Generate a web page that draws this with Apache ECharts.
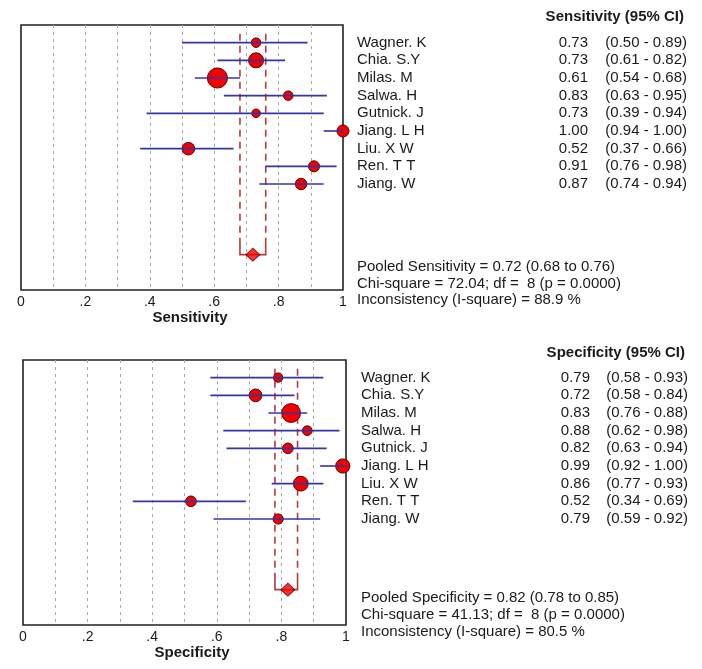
<!DOCTYPE html>
<html>
<head>
<meta charset="utf-8">
<script src="https://cdn.jsdelivr.net/npm/echarts@6/dist/echarts.min.js"></script>
<style>
html,body{margin:0;padding:0;background:#fff;}
#chart{width:702px;height:669px;}
</style>
</head>
<body>
<div id="chart"></div>
<script>
// ---- data ----
const studies = ['Wagner. K','Chia. S.Y','Milas. M','Salwa. H','Gutnick. J','Jiang. L H','Liu. X W','Ren. T T','Jiang. W'];
const sensEst = [0.73,0.73,0.61,0.83,0.73,1.00,0.52,0.91,0.87];
const sensLo  = [0.50,0.61,0.54,0.63,0.39,0.94,0.37,0.76,0.74];
const sensHi  = [0.89,0.82,0.68,0.95,0.94,1.00,0.66,0.98,0.94];
const sensWeight = [6.3,15.7,28.0,6.3,5.0,10.1,10.9,8.5,9.2];
const specEst = [0.79,0.72,0.83,0.88,0.82,0.99,0.86,0.52,0.79];
const specLo  = [0.58,0.58,0.76,0.62,0.63,0.92,0.77,0.34,0.59];
const specHi  = [0.93,0.84,0.88,0.98,0.94,1.00,0.93,0.69,0.92];
const specWeight = [5.8,11.2,24.5,6.5,7.9,14.0,15.1,7.9,7.2];
const pooledSens = [0.72,0.68,0.76];
const pooledSpec = [0.82,0.78,0.85];
const sensStats = ['Chi-square = 72.04; df =  8 (p = 0.0000)','Inconsistency (I-square) = 88.9 %'];
const specStats = ['Chi-square = 41.13; df =  8 (p = 0.0000)','Inconsistency (I-square) = 80.5 %'];
const xTickLabels = ['0','.2','.4','.6','.8','1'];
const panelNames = ['Sensitivity','Specificity'];
const pooledRow = 12;

// ---- chart ----
const FONT = '"Liberation Sans", Arial, sans-serif';
const TXT = '#1a1a1a';
const chart = echarts.init(document.getElementById('chart'), null, {renderer:'canvas'});

const grids = [
  {left:21, width:322, top:25, height:265},
  {left:23, width:323, top:360, height:265}
];

function xAxisFor(gi){
  return {
    gridIndex:gi, type:'value', min:0, max:1, interval:0.1,
    axisLine:{show:false}, axisTick:{show:false},
    axisLabel:{
      margin:5, color:TXT, fontFamily:FONT, fontSize:14,
      formatter:function(v){
        const k = Math.round(v*10);
        return k % 2 === 0 ? xTickLabels[k/2] : '';
      }
    },
    splitLine:{show:true, showMinLine:false, showMaxLine:false,
      lineStyle:{color:'#a8a8a8', type:[3,4], width:1}}
  };
}
function yAxisFor(gi){
  return {gridIndex:gi, type:'value', min:-1, max:14, inverse:true, show:false};
}

function panelSeries(gi, est, lo, hi, weight, pooled){
  const bars = studies.map((s,i)=>[lo[i], hi[i], i]);
  const pts = studies.map((s,i)=>[est[i], i, weight[i]]);
  return [
    {
      type:'scatter', xAxisIndex:gi, yAxisIndex:gi, z:2,
      data:pts,
      symbol:'circle',
      symbolSize:function(v){ return 3.8*Math.sqrt(v[2]); },
      itemStyle:{color:'#f50000', borderColor:'#5a0000', borderWidth:1, opacity:1},
      emphasis:{disabled:true}, silent:true
    },
    {
      type:'custom', xAxisIndex:gi, yAxisIndex:gi, z:3,
      data:bars,
      encode:{x:[0,1], y:2},
      renderItem:function(params, api){
        const a = api.coord([api.value(0), api.value(2)]);
        const b = api.coord([api.value(1), api.value(2)]);
        return {type:'line', shape:{x1:a[0], y1:a[1], x2:b[0], y2:b[1]},
          style:{stroke:'#3434a4', lineWidth:1.6}};
      },
      silent:true
    },
    {
      type:'custom', xAxisIndex:gi, yAxisIndex:gi, z:2,
      data:[[pooled[1], pooled[2], pooled[0]]],
      encode:{x:[0,1,2]},
      renderItem:function(params, api){
        const lo = api.value(0), hi = api.value(1);
        const lt = api.coord([lo, -0.5]), lb = api.coord([lo, pooledRow]);
        const rt = api.coord([hi, -0.5]), rb = api.coord([hi, pooledRow]);
        const lm = api.coord([lo, pooledRow-0.6]), rm = api.coord([hi, pooledRow-0.6]);
        const col = '#b23c3c';
        return {type:'group', children:[
          {type:'line', shape:{x1:lt[0],y1:lt[1],x2:lm[0],y2:lm[1]}, style:{stroke:col, lineWidth:1.6, lineDash:[7,5]}},
          {type:'line', shape:{x1:rt[0],y1:rt[1],x2:rm[0],y2:rm[1]}, style:{stroke:col, lineWidth:1.6, lineDash:[7,5]}},
          {type:'polyline', shape:{points:[lm, lb, rb, rm]}, style:{stroke:col, lineWidth:1.6, fill:null}}
        ]};
      },
      silent:true
    },
    {
      type:'scatter', xAxisIndex:gi, yAxisIndex:gi, z:4,
      data:[[pooled[0], pooledRow]],
      symbol:'diamond', symbolSize:[14,13],
      itemStyle:{color:'#f50000', borderColor:'#6a0000', borderWidth:1},
      emphasis:{disabled:true}, silent:true
    }
  ];
}

chart.setOption({
  animation:false,
  backgroundColor:'#fff',
  grid:grids.map(g=>Object.assign({show:true, borderColor:'#222', borderWidth:1.6, backgroundColor:'transparent'}, g)),
  xAxis:[xAxisFor(0), xAxisFor(1)],
  yAxis:[yAxisFor(0), yAxisFor(1)],
  series:[].concat(
    panelSeries(0, sensEst, sensLo, sensHi, sensWeight, pooledSens),
    panelSeries(1, specEst, specLo, specHi, specWeight, pooledSpec)
  )
});

// ---- side texts ----
function txt(x, y, s, align, bold){
  return {type:'text', x:x, y:y, silent:true,
    style:{text:s, fill:TXT, font:(bold?'bold ':'')+'15px '+FONT,
      textAlign:align||'left', textVerticalAlign:'middle'}};
}
const layout = [
  {nameX:357, valX:588, ciX:687, headY:16.5, statY:[267,284,300], titleX:190, titleY:318},
  {nameX:361, valX:590, ciX:688, headY:353, statY:[598,615,632], titleX:192, titleY:653}
];
const graphics = [];
const sets = [
  {est:sensEst, lo:sensLo, hi:sensHi, pooled:pooledSens, stats:sensStats},
  {est:specEst, lo:specLo, hi:specHi, pooled:pooledSpec, stats:specStats}
];
sets.forEach((d, gi)=>{
  const L = layout[gi];
  graphics.push(txt(L.ciX-3, L.headY, panelNames[gi]+' (95% CI)', 'right', true));
  studies.forEach((s, i)=>{
    const y = chart.convertToPixel({gridIndex:gi}, [0, i])[1];
    graphics.push(txt(L.nameX, y, s, 'left'));
    graphics.push(txt(L.valX, y, d.est[i].toFixed(2), 'right'));
    graphics.push(txt(L.ciX, y, '(' + d.lo[i].toFixed(2) + ' - ' + d.hi[i].toFixed(2) + ')', 'right'));
  });
  graphics.push(txt(L.nameX, L.statY[0], 'Pooled ' + panelNames[gi] + ' = ' + d.pooled[0].toFixed(2) +
    ' (' + d.pooled[1].toFixed(2) + ' to ' + d.pooled[2].toFixed(2) + ')', 'left'));
  graphics.push(txt(L.nameX, L.statY[1], d.stats[0], 'left'));
  graphics.push(txt(L.nameX, L.statY[2], d.stats[1], 'left'));
  graphics.push(txt(L.titleX, L.titleY, panelNames[gi], 'center', true));
});
chart.setOption({graphic:graphics});
</script>
</body>
</html>
